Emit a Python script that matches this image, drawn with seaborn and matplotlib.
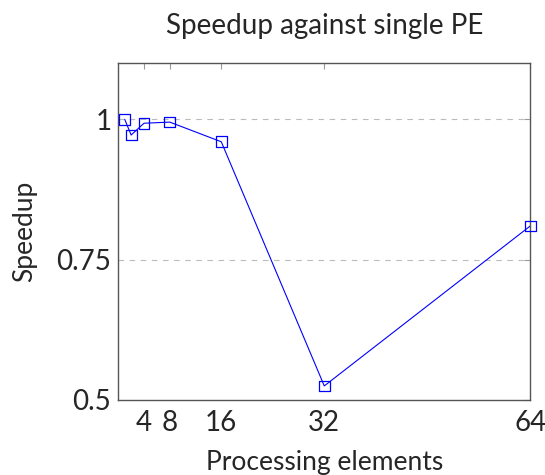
import matplotlib
matplotlib.use("Agg")
import matplotlib.pyplot as plt
import seaborn as sns
import pandas as pd

# data
pes = [1, 2, 4, 8, 16, 32, 64]
speedup = [1.0, 0.972, 0.993, 0.995, 0.96, 0.525, 0.81]
xticks = [4, 8, 16, 32, 64]
yticks = [0.5, 0.75, 1.0]
ytick_labels = ["0.5", "0.75", "1"]

df = pd.DataFrame({"pe": pes, "speedup": speedup})

sns.set_style("white")
plt.rcParams["font.family"] = ["Lato", "DejaVu Sans"]

fig = plt.figure(figsize=(5.45, 4.75), dpi=100)
ax = fig.add_axes([0.217, 0.158, 0.756, 0.709])

# line, then open square markers on top
sns.lineplot(data=df, x="pe", y="speedup", ax=ax, color="#0000ff",
             linewidth=0.8, zorder=3)
sns.scatterplot(data=df, x="pe", y="speedup", ax=ax, marker="s", s=60,
                facecolor="none", edgecolor="#0000ff", linewidth=0.9,
                zorder=4, clip_on=False)

ax.set_xlim(0, 64)
ax.set_ylim(0.5, 1.1)
ax.set_xticks(xticks)
ax.set_yticks(yticks)
ax.set_yticklabels(ytick_labels)

for y in yticks[1:]:
    ax.axhline(y, color="#bbbbbb", linestyle=(0, (5, 5)), linewidth=0.8, zorder=1)

ax.tick_params(direction="in", length=4, width=0.8, color="#999999",
               top=True, right=True, labelsize=20, pad=7)
ax.tick_params(axis="y", pad=5)
for s in ax.spines.values():
    s.set_color("#555555")
    s.set_linewidth(1.0)

ax.set_title("Speedup against single PE", fontsize=20, pad=21)
ax.set_xlabel("Processing elements", fontsize=19, labelpad=10)
ax.set_ylabel("Speedup", fontsize=19, labelpad=14)

fig.savefig("out.png", dpi=100)
